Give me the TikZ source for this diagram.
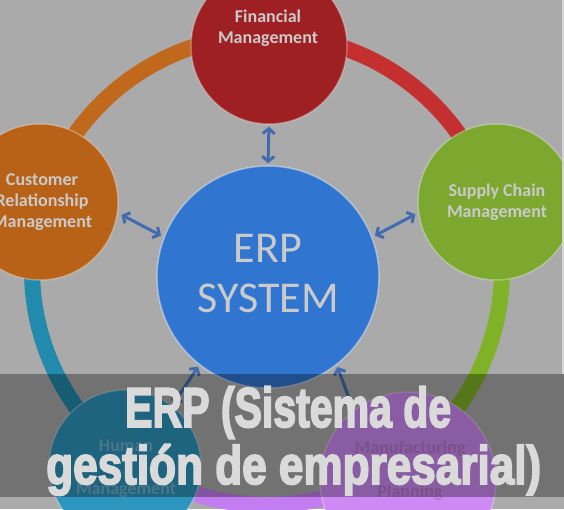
\documentclass[tikz,border=0pt]{standalone}
\usepackage{fontspec}
\usepackage{graphicx}
\setmainfont{Carlito}
\newfontfamily\bandfont{Liberation Sans}[BoldFeatures={FakeBold=3.5}]
\usetikzlibrary{arrows.meta}
\definecolor{bg}{RGB}{170,170,170}
\definecolor{finc}{RGB}{158,32,34}
\definecolor{finring}{RGB}{196,48,48}
\definecolor{scmc}{RGB}{124,168,48}
\definecolor{scmring}{RGB}{128,178,40}
\definecolor{crmc}{RGB}{184,98,24}
\definecolor{crmring}{RGB}{192,104,28}
\definecolor{hrc}{RGB}{45,150,190}
\definecolor{hrring}{RGB}{34,138,172}
\definecolor{mfgc}{RGB}{205,138,245}
\definecolor{mfgring}{RGB}{195,125,240}
\definecolor{erpc}{RGB}{48,118,208}
\definecolor{arrowc}{RGB}{66,108,176}
\definecolor{lblc}{RGB}{202,202,202}
\definecolor{hrtxt}{RGB}{110,175,205}
\definecolor{mfgtxt}{RGB}{185,120,205}
\definecolor{bandtxt}{RGB}{218,218,218}
\definecolor{edgec}{RGB}{212,212,212}
\begin{document}
\begin{tikzpicture}[x=1pt,y=-1pt,
  circ/.style={circle, inner sep=0pt, draw=white, draw opacity=0.3, line width=1.5pt},
  lbl/.style={text=lblc, font=\fontsize{18}{21}\selectfont\bfseries, align=center, inner sep=0pt},
  conn/.style={arrowc, line width=3pt, {Straight Barb[length=5pt,width=12pt]}-{Straight Barb[length=5pt,width=12pt]}},
  ringseg/.style={line width=16pt}]
\useasboundingbox (0,0) rectangle (564,509);
\clip (0,0) rectangle (564,509);
\fill[bg] (0,0) rectangle (564,509);
% ring
\coordinate (rc) at (267,270);
\foreach \a/\b/\c in {-16.5/-90/finring, -90/-163.5/crmring, -163.5/-234/hrring, -234/-304/mfgring, -304/-376.5/scmring}
  \draw[ringseg, \c] (rc) ++(\a:235) arc[start angle=\a, end angle=\b, radius=235];
% circles
\node[circ, fill=finc, minimum size=156pt] (fin) at (269,46) {};
\node[circ, fill=scmc, minimum size=156pt] (scm) at (496,202) {};
\node[circ, fill=crmc, minimum size=156pt] (crm) at (40,202) {};
\node[circ, fill=hrc, minimum size=152pt] (hr) at (125,466) {};
\node[circ, fill=mfgc, minimum size=176pt] (mfg) at (408,480) {};
\node[circ, fill=erpc, draw=white, draw opacity=0.4, minimum size=222pt] (erp) at (268,277) {};
% arrows
\draw[conn, shorten <=2pt, shorten >=2pt] (erp.90) -- (fin.-90);
\draw[conn, shorten <=3pt, shorten >=4pt] (erp.159) -- (crm.-8);
\draw[conn, shorten <=3pt, shorten >=3pt] (erp.21) -- (scm.188);
\draw[conn, shorten <=2pt, shorten >=2pt] (erp.232) -- (hr.52);
\draw[conn, shorten <=2pt, shorten >=2pt] (erp.-52) -- (mfg.128);
% labels
\node[lbl] (finlbl) at (268,28) {Financial\\Management};
\node[lbl] (crmlbl) at (42,202) {Customer\\Relationship\\Management};
\node[lbl] (scmlbl) at (497,202) {Supply Chain\\Management};
\node[lbl, text=hrtxt, font=\fontsize{18}{21.5}\selectfont\bfseries] (hrlbl) at (126,469) {Human\\\mbox{}\\Management};
\node[lbl, text=mfgtxt, font=\fontsize{18}{22}\selectfont\bfseries] (mfglbl) at (410,471) {Manufacturing\\\mbox{}\\Planning};
\node[text=lblc, font=\fontsize{44}{50}\selectfont, align=center, inner sep=0pt] (erplbl) at (268,274) {ERP\\SYSTEM};
% right edge strip
\fill[edgec] (562,0) rectangle (564,374);
% band
\fill[black, opacity=0.33] (0,374) rectangle (564,497);
\node[anchor=base west, inner sep=0pt, text=bandtxt] (t1) at (125,427)
  {\resizebox{326pt}{\height}{\fontsize{56}{60}\selectfont\bandfont\bfseries ERP (Sistema de}};
\node[anchor=base west, inner sep=0pt, text=bandtxt] (t2) at (46,484)
  {\resizebox{495pt}{\height}{\fontsize{54}{60}\selectfont\bandfont\bfseries gestión de empresarial)}};
\end{tikzpicture}
\end{document}
